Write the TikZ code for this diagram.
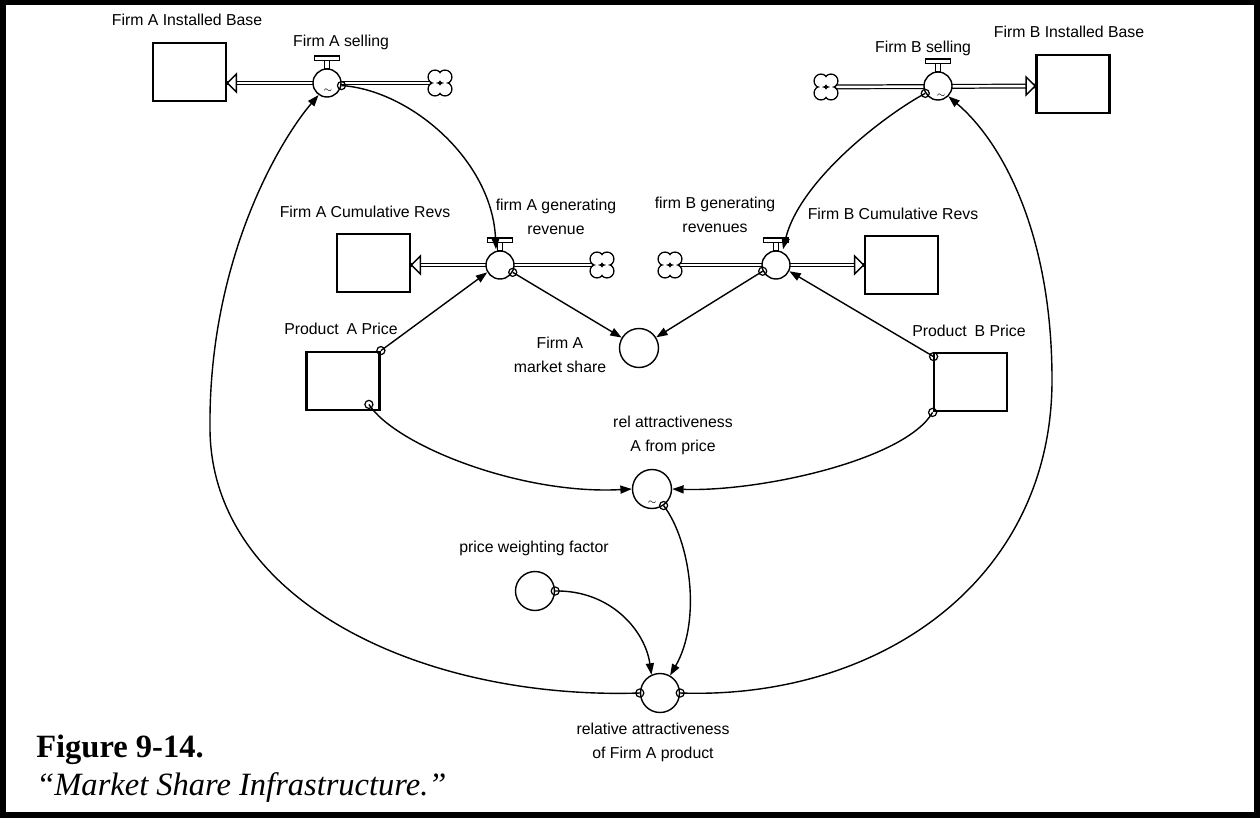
\documentclass[tikz,border=0pt]{standalone}
\usepackage{fontspec}
\setmainfont{Liberation Sans}
\newfontfamily\capfont{Liberation Serif}
\usetikzlibrary{positioning, calc, arrows.meta, backgrounds}

\tikzset{
	stock/.style={draw, line width=1.6pt, minimum width=1.46cm, minimum height=1.16cm, inner sep=0pt},
	valve/.style={circle, draw, fill=white, line width=0.8pt, minimum size=0.56cm, inner sep=0pt},
	aux/.style={circle, draw, fill=white, line width=0.8pt, minimum size=0.78cm, inner sep=0pt},
	handle/.style={draw, fill=white, line width=0.8pt},
	pipe/.style={double, line width=0.7pt, double distance=1.4pt},
	flowhead/.style={draw, fill=white, line width=0.8pt},
	link/.style={line width=0.8pt, -{Triangle[length=6.5pt, width=4.6pt]}},
	tap/.style={line width=0.7pt},
	lbl/.style={font=\fontsize{9}{13.6}\selectfont, align=center, inner sep=0pt},
	tilde/.style={font=\tiny, inner sep=0pt}
}

\begin{document}
\begin{tikzpicture}[x=0.02cm, y=-0.02cm]
	\useasboundingbox (0,0) rectangle (1260,818);
	\draw [line width=3.4pt] (3,2.5) rectangle (1256.5,815);
	
	% stocks
	\node [stock] (fAbase) at (189.5,72) {};
	\node [stock] (fBbase) at (1073,84) {};
	\node [stock] (fArevs) at (373.5,263) {};
	\node [stock] (fBrevs) at (901.5,265) {};
	\node [stock] (pAprice) at (343,381) {};
	\node [stock] (pBprice) at (970.5,382) {};
	
	% valves
	\node [valve] (fAsel) at (327,83) {};
	\node [valve] (fBsel) at (938,86) {};
	\node [valve] (fAgen) at (500,265) {};
	\node [valve] (fBgen) at (776,265) {};
	\foreach \v in {fAsel,fBsel,fAgen,fBgen} {
		\draw [handle] ($(\v.north)+(-2.5,0)$) rectangle ($(\v.north)+(2.5,-8)$);
		\draw [handle] ($(\v.north)+(-12.5,-8)$) rectangle ($(\v.north)+(12.5,-12.5)$);
	}
	\node [tilde] at ($(fAsel.south)+(1,-7)$) {$\sim$};
	\node [tilde] at ($(fBsel.south)+(3,-5)$) {$\sim$};
	
	% clouds
	\coordinate (cAsel) at (440,83);
	\coordinate (cBsel) at (826,87);
	\coordinate (cAgen) at (602,265);
	\coordinate (cBgen) at (670,265);
	\foreach \c in {cAsel,cBsel,cAgen,cBgen} {
		\fill [white] (\c) circle (4.5pt);
		\foreach \dx/\dy in {-5/-6,5/-6,-5/6,5/6}
			\draw [line width=0.8pt] ($(\c)+(\dx,\dy)$) circle (3.9pt);
		\foreach \dx/\dy in {-5/-6,5/-6,-5/6,5/6}
			\fill [white] ($(\c)+(\dx,\dy)$) circle (3.4pt);
	}
	
	% pipes
	\begin{pgfonlayer}{background}
		\draw [pipe] (cAsel) -- (fAsel.center -| fAbase.east);
		\draw [pipe] (cBsel) -- (fBsel.center -| fBbase.west);
		\draw [pipe] (cAgen) -- (fAgen.center -| fArevs.east);
		\draw [pipe] (cBgen) -- (fBgen.center -| fBrevs.west);
	\end{pgfonlayer}
	\draw [flowhead] (fAsel.center -| fAbase.east) -- ++(9,-9) -- ++(0,18) -- cycle;
	\draw [flowhead] (fBsel.center -| fBbase.west) -- ++(-9,-9) -- ++(0,18) -- cycle;
	\draw [flowhead] (fAgen.center -| fArevs.east) -- ++(9,-9) -- ++(0,18) -- cycle;
	\draw [flowhead] (fBgen.center -| fBrevs.west) -- ++(-9,-9) -- ++(0,18) -- cycle;
	
	% auxiliaries
	\node [aux] (mshare) at (639,348) {};
	\node [aux] (relprice) at (652,489) {};
	\node [aux] (pwf) at (535,591) {};
	\node [aux] (relattr) at (660,693) {};
	\node [tilde] at ($(relprice.south)+(0,-6)$) {$\sim$};
	
	% labels
	\node [lbl] (tAbase) at (187,20) {Firm A Installed Base};
	\node [lbl] (tAsel) at (341,42) {Firm A selling};
	\node [lbl] (tBsel) at (923,48) {Firm B selling};
	\node [lbl] (tBbase) at (1069,32) {Firm B Installed Base};
	\node [lbl] (tArevs) at (365,212) {Firm A Cumulative Revs};
	\node [lbl] (tAgen) at (556,217) {firm A generating\\revenue};
	\node [lbl] (tBgen) at (715,215) {firm B generating\\revenues};
	\node [lbl] (tBrevs) at (893,214) {Firm B Cumulative Revs};
	\node [lbl] (tAprice) at (341,329) {Product\enspace A Price};
	\node [lbl] (tBprice) at (969,331) {Product\enspace B Price};
	\node [lbl] (tmshare) at (560,355) {Firm A\\market share};
	\node [lbl] (trelprice) at (673,435) {rel attractiveness\\A from price};
	\node [lbl] (tpwf) at (534,548) {price weighting factor};
	\node [lbl] (trelattr) at (653,742) {relative attractiveness\\of Firm A product};
	
	% links
	\coordinate (pAout) at ($(pAprice.south east)+(-12,-7)$);
	\coordinate (pBout) at ($(pBprice.north west)+(1,5)$);
	\draw [link] (fAsel.-10) .. controls (410,90) and (492,160) .. ($(fAgen.north)+(-4,-1)$);
	\draw [link] (fBsel.210) .. controls (885,115) and (800,180) .. ($(fBgen.north)+(7,-1)$);
	\draw [link] (pAprice.north east) -- (fAgen.210);
	\draw [link] (pBout) -- (fBgen.-25);
	\draw [link] (fAgen.-30) -- (mshare);
	\draw [link] (fBgen.205) -- (mshare);
	\draw [link] (pAout) .. controls (395,445) and (520,495) .. (relprice.west);
	\draw [link] (pBprice.south west) .. controls (905,460) and (760,492) .. (relprice.east);
	\draw [link] (relprice.-55) .. controls (690,540) and (702,620) .. (relattr.60);
	\draw [link] (pwf.east) .. controls (610,590) and (645,630) .. (relattr.115);
	\draw [link] (relattr.west) .. controls (420,700) and (212,600) .. (210,430)
		.. controls (208,260) and (280,140) .. (fAsel.235);
	\draw [link] (relattr.east) .. controls (880,700) and (1052,580) .. (1052,380)
		.. controls (1052,230) and (1000,140) .. (fBsel.-45);
	\foreach \p in {fAsel.-10, fBsel.210, fAgen.-30, fBgen.205, pAprice.north east, pAout, pBout,
		pBprice.south west, relprice.-55, pwf.east, relattr.west, relattr.east}
		\draw [tap] (\p) circle (2.3pt);
	
	% caption
	\node [anchor=base west, inner sep=0pt, font=\capfont\bfseries\fontsize{18.5}{22}\selectfont] (figno) at (36,757) {Figure 9-14.};
	\node [anchor=base west, inner sep=0pt, font=\capfont\itshape\fontsize{18.5}{22}\selectfont] (figtitle) at (36,795) {“Market Share Infrastructure.”};
\end{tikzpicture}
\end{document}
